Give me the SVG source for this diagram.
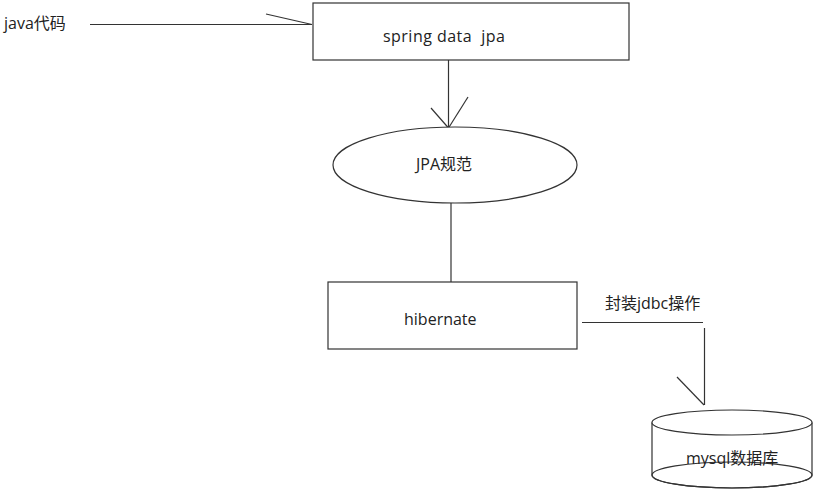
<svg xmlns="http://www.w3.org/2000/svg" width="820" height="491" viewBox="0 0 820 491">
<style>
.ln{stroke:#333;stroke-width:1.2;fill:none}
.box{stroke:#333;stroke-width:1.2;fill:#fff}
.t{font-family:"Open Sans","Noto Sans CJK SC",sans-serif;font-size:16px;fill:#222}
</style>
<rect width="820" height="491" fill="#fff"/>
<g id="connectors">
<line class="ln" x1="90" y1="24.5" x2="312" y2="24.5"/>
<line class="ln" x1="266" y1="14" x2="312" y2="24.5"/>
<line class="ln" x1="448.5" y1="60" x2="448.5" y2="128"/>
<line class="ln" x1="431" y1="108" x2="448.5" y2="128"/>
<line class="ln" x1="468" y1="97" x2="448.5" y2="128"/>
<line class="ln" x1="451" y1="203" x2="451" y2="282"/>
<line class="ln" x1="582" y1="322.5" x2="703" y2="322.5"/>
<line class="ln" x1="704.5" y1="328" x2="704.5" y2="405"/>
<line class="ln" x1="677" y1="377" x2="704" y2="405"/>
</g>
<g id="java-code"><text class="t" x="4" y="29">java代码</text></g>
<g id="spring-data-jpa">
<rect class="box" x="313" y="3" width="316" height="57"/>
<text class="t" x="383" y="42" xml:space="preserve" textLength="122" lengthAdjust="spacing">spring data  jpa</text>
</g>
<g id="jpa-spec">
<ellipse class="box" cx="455" cy="165" rx="122" ry="38"/>
<text class="t" x="416" y="170">JPA规范</text>
</g>
<g id="hibernate">
<rect class="box" x="328" y="282" width="249" height="67"/>
<text class="t" x="404" y="325">hibernate</text>
</g>
<g id="jdbc-label"><text class="t" x="605" y="309">封装jdbc操作</text></g>
<g id="mysql">
<path class="box" d="M652 422.5 V475 A80 13 0 0 0 812 475 V422.5"/>
<ellipse class="box" cx="732" cy="422.5" rx="80" ry="12.5"/>
<ellipse class="ln" cx="732" cy="475" rx="80" ry="13"/>
<text class="t" x="686" y="464">mysql数据库</text>
</g>
</svg>
